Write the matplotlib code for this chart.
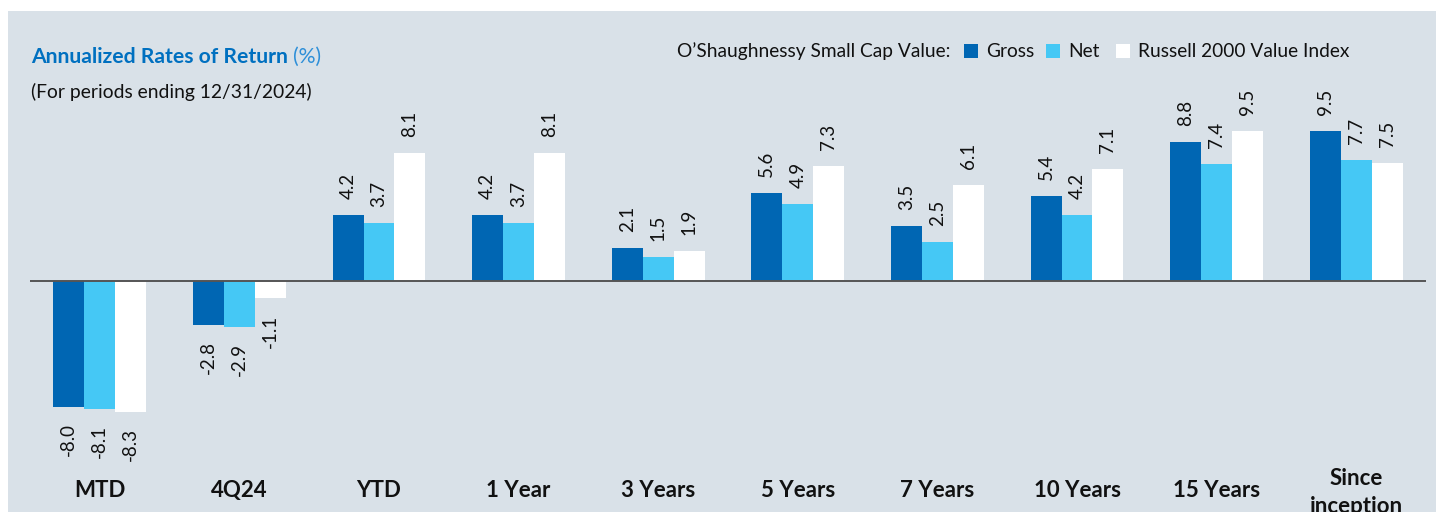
import matplotlib
matplotlib.use("Agg")
import matplotlib.pyplot as plt
from matplotlib.patches import Rectangle
import numpy as np

categories = ["MTD", "4Q24", "YTD", "1 Year", "3 Years", "5 Years", "7 Years",
              "10 Years", "15 Years", "Since\ninception"]
gross = [-8.0, -2.8, 4.2, 4.2, 2.1, 5.6, 3.5, 5.4, 8.8, 9.5]
net = [-8.1, -2.9, 3.7, 3.7, 1.5, 4.9, 2.5, 4.2, 7.4, 7.7]
russell = [-8.3, -1.1, 8.1, 8.1, 1.9, 7.3, 6.1, 7.1, 9.5, 7.5]
series_names = ["Gross", "Net", "Russell 2000 Value Index"]
legend_prefix = "O\u2019Shaughnessy Small Cap Value:"
title_main = "Annualized Rates of Return"
title_pct = "(%)"
subtitle = "(For periods ending 12/31/2024)"

C_GROSS = "#0066B3"
C_NET = "#45C8F5"
C_RUSS = "#FFFFFF"
BG = "#D9E1E8"
TITLE_BLUE = "#0070C0"
PCT_BLUE = "#2E8FD8"
FONT = "Lato"

W, H = 1436, 512
fig = plt.figure(figsize=(W / 100, H / 100), dpi=100)
fig.patch.set_facecolor("white")

def fx(px):
    return px / W

def fy(py):
    return 1 - py / H

# background panel
fig.patches.append(Rectangle((fx(8), 0), 1 - fx(8), fy(11), transform=fig.transFigure,
                             facecolor=BG, edgecolor="none", zorder=-10))

# axes: baseline at y=281px, 15.75 px per unit
ppu = 15.75
base_from_bottom = H - 281
ax = fig.add_axes([fx(30), 0, fx(1426) - fx(30), 1])
ax.set_facecolor("none")
ax.set_ylim(-base_from_bottom / ppu, (H - base_from_bottom) / ppu)
ax.set_xlim(-0.5, len(categories) - 0.5)
for s in ax.spines.values():
    s.set_visible(False)
ax.set_xticks([])
ax.set_yticks([])

x = np.arange(len(categories))
bw = 0.222
off = 0.222
series = [gross, net, russell]
colors = [C_GROSS, C_NET, C_RUSS]
for i, (vals, col) in enumerate(zip(series, colors)):
    xs = x + (i - 1) * off
    ax.bar(xs, vals, width=bw, color=col, edgecolor="none", zorder=2)
    for xi, v in zip(xs, vals):
        if v >= 0:
            ax.annotate(f"{v:.1f}", xy=(xi, v), xytext=(0, 11.5), textcoords="offset points",
                        rotation=90, ha="center", va="bottom", fontsize=13.5,
                        family=FONT, color="#111111")
        else:
            ax.annotate(f"{v:.1f}", xy=(xi, v), xytext=(0, -11.5), textcoords="offset points",
                        rotation=90, ha="center", va="top", fontsize=13.5,
                        family=FONT, color="#111111")

ax.axhline(0, color="#555555", lw=1.4, zorder=3)

xt = ax.get_xaxis_transform()
for xi, c in zip(x, categories):
    if "\n" in c:
        ax.text(xi, 1 - 513 / H, c, transform=xt, ha="center", va="baseline",
                fontsize=16, fontweight="bold", family=FONT, color="#111111",
                linespacing=1.4)
    else:
        ax.text(xi, 1 - 497 / H, c, transform=xt, ha="center", va="baseline",
                fontsize=16, fontweight="bold", family=FONT, color="#111111")

# titles
t1 = fig.text(fx(31), fy(63), title_main, fontsize=15.2, fontweight="bold",
              color=TITLE_BLUE, family=FONT, va="baseline", ha="left")
fig.canvas.draw()
r = fig.canvas.get_renderer()
bb = t1.get_window_extent(r)
fig.text(fx(31) + bb.width / W + fx(5), fy(63), title_pct, fontsize=15.2,
         color=PCT_BLUE, family=FONT, va="baseline", ha="left")
fig.text(fx(31), fy(98), subtitle, fontsize=13.9, color="#111111", family=FONT,
         va="baseline", ha="left")

# legend
fig.text(fx(677), fy(57), legend_prefix, fontsize=13.8, color="#111111", family=FONT,
         va="baseline", ha="left")
sq = [964, 1046, 1116]
tx = [986, 1068, 1138]
for s_x, t_x, col, name in zip(sq, tx, colors, series_names):
    fig.patches.append(Rectangle((fx(s_x), fy(58)), fx(14), 14 / H, transform=fig.transFigure,
                                 facecolor=col, edgecolor="none"))
    fig.text(fx(t_x), fy(57), name, fontsize=13.8, color="#111111", family=FONT,
             va="baseline", ha="left")

fig.savefig("out.png", dpi=100, facecolor=fig.get_facecolor())
